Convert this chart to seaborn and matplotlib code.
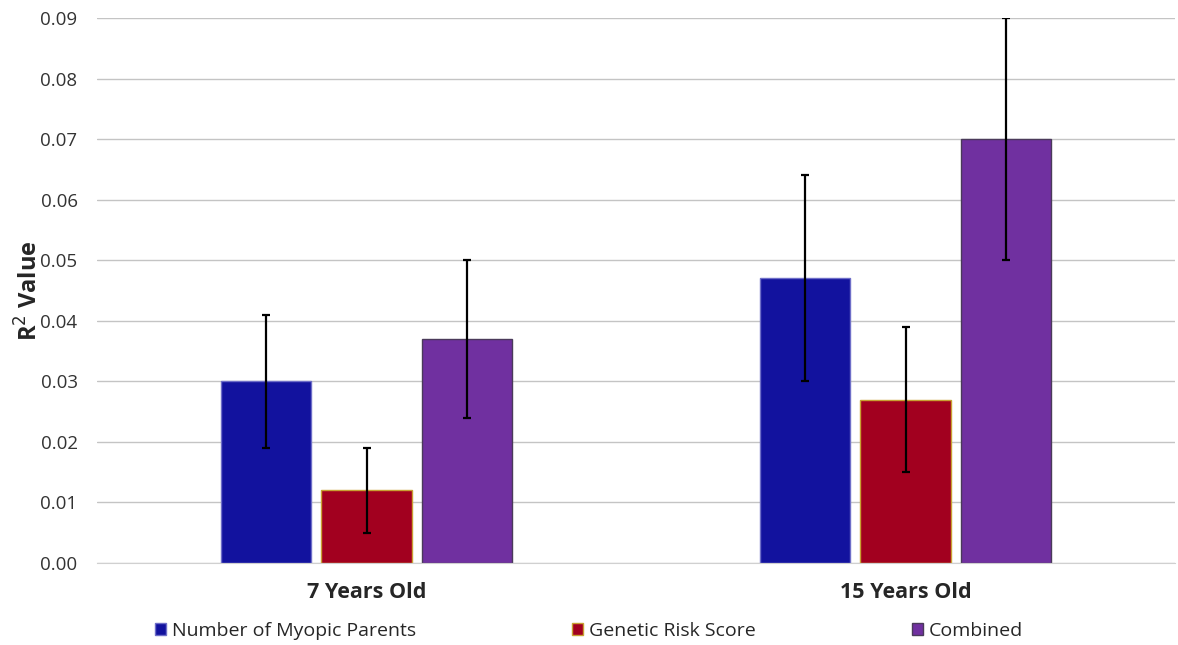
import seaborn as sns
import matplotlib.pyplot as plt
import pandas as pd

# data
ages = ['7 Years Old', '15 Years Old']
predictors = ['Number of Myopic Parents', 'Genetic Risk Score', 'Combined']
r2_parents = [0.030, 0.047]
r2_grs = [0.012, 0.027]
r2_combined = [0.037, 0.070]
lo_parents = [0.019, 0.030]
hi_parents = [0.041, 0.064]
lo_grs = [0.005, 0.015]
hi_grs = [0.019, 0.039]
lo_combined = [0.024, 0.050]
hi_combined = [0.050, 0.090]

colours = ['#12129E', '#A2001F', '#7030A0']
edges = ['#6E6EC8', '#C8A032', '#4A3A5A']

df = pd.DataFrame({
    'age': ages * 3,
    'predictor': [p for p in predictors for _ in ages],
    'r2': r2_parents + r2_grs + r2_combined,
})
lows = [lo_parents, lo_grs, lo_combined]
highs = [hi_parents, hi_grs, hi_combined]
vals = [r2_parents, r2_grs, r2_combined]

sns.set_style('white')
plt.rcParams['font.family'] = ['Open Sans', 'DejaVu Sans']

fig = plt.figure(figsize=(11.78, 6.45), dpi=100)
ax = fig.add_axes([97 / 1178, 1 - 563 / 645, 1078 / 1178, 545 / 645])

sns.barplot(data=df, x='age', y='r2', hue='predictor', order=ages, hue_order=predictors,
            palette=colours, width=0.557, gap=0.1, errorbar=None, saturation=1,
            linewidth=1, ax=ax)
ax.set_xlim(-0.5, 1.5)

# edges + error bars (copy the list, errorbar adds containers)
bar_conts = list(ax.containers)
for i, cont in enumerate(bar_conts):
    for j, bar in enumerate(cont.patches):
        bar.set_edgecolor(edges[i])
        bar.set_zorder(2)
        xc = bar.get_x() + bar.get_width() / 2
        v = vals[i][j]
        ax.errorbar(xc, v, yerr=[[v - lows[i][j]], [highs[i][j] - v]], fmt='none',
                    ecolor='black', elinewidth=1.6, capsize=3, capthick=1.6, zorder=3)

ax.set_ylim(0, 0.09)
ax.set_yticks([i / 100 for i in range(10)])
ax.set_yticklabels([f'{i / 100:.2f}' for i in range(10)], fontsize=13.5, color='#333333')
ax.yaxis.grid(True, color='#C4C4C4', linewidth=1)
ax.set_axisbelow(True)
for s in ['top', 'right', 'left']:
    ax.spines[s].set_visible(False)
ax.spines['bottom'].set_color('#D0D0D0')
ax.tick_params(axis='y', length=0, pad=14)
ax.tick_params(axis='x', length=0, pad=14)
for lab in ax.get_xticklabels():
    lab.set_fontweight('bold')
    lab.set_fontsize(15.5)
    lab.set_color('#262626')
ax.set_xlabel('')
ax.set_ylabel('R$^2$ Value', fontsize=17, fontweight='bold', labelpad=-2)

handles, labels = ax.get_legend_handles_labels()
ax.get_legend().remove()
for h, e in zip(handles, edges):
    h.set_edgecolor(e)
fig.legend(handles, labels, loc='center', bbox_to_anchor=(0.5, 1 - 631 / 645), ncol=3,
           frameon=False, fontsize=14, handlelength=0.6, handleheight=0.6,
           handletextpad=0.3, columnspacing=8.0, labelcolor='#262626')

fig.savefig('out.png', dpi=100)
